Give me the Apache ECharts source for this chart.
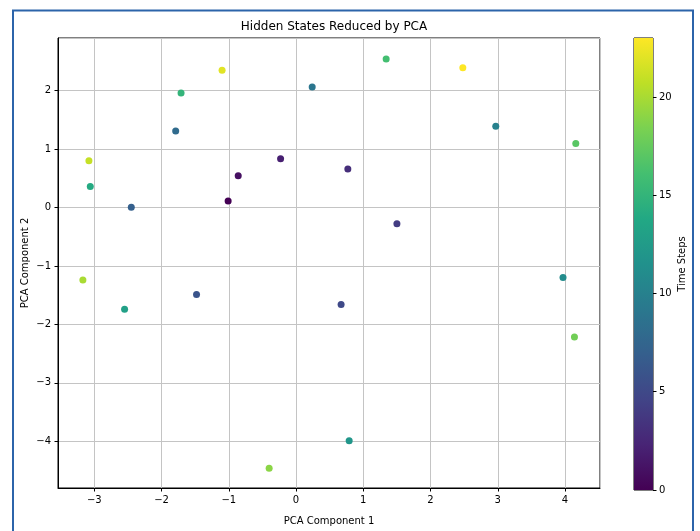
<!DOCTYPE html>
<html>
<head>
<meta charset="utf-8">
<script src="https://cdn.jsdelivr.net/npm/echarts@6/dist/echarts.min.js"></script>
<style>
html,body{margin:0;padding:0;background:#fff;}
#chart{width:700px;height:531px;}
</style>
</head>
<body>
<div id="chart"></div>
<script>
// Data
const timeSteps = [0, 1, 2, 3, 4, 5, 6, 7, 8, 9, 10, 11, 12, 13, 14, 15, 16, 17, 18, 19, 20, 21, 22, 23];
const pcaX = [-1.01, -0.86, -0.23, 0.77, 1.50, 0.67, -1.48, -2.45, -1.79, 0.24, 2.97, 3.97, 0.79, -2.55, -3.06, -1.71, 1.34, 4.16, 4.14, -0.40, -3.17, -3.08, -1.10, 2.48];
const pcaY = [0.11, 0.545, 0.835, 0.66, -0.28, -1.66, -1.49, 0.005, 1.31, 2.06, 1.39, -1.20, -3.99, -1.74, 0.36, 1.96, 2.54, 1.095, -2.215, -4.46, -1.24, 0.80, 2.35, 2.39];
const xTickLabels = ['−3', '−2', '−1', '0', '1', '2', '3', '4'];
const yTickLabels = ['−4', '−3', '−2', '−1', '0', '1', '2'];
const cbarTickLabels = ['0', '5', '10', '15', '20'];

const viridis = ['#440154', '#482475', '#414487', '#355f8d', '#2a788e', '#21918c', '#22a884', '#44bf70', '#7ad151', '#bddf26', '#fde725'];
const tMin = 0, tMax = 23;

const points = pcaX.map((x, i) => [x, pcaY[i], timeSteps[i]]);
const fmt = v => {
  const s = String(Math.round(v));
  return s.replace('-', '−');
};

const chart = echarts.init(document.getElementById('chart'), null, {renderer: 'canvas'});
const font = 'DejaVu Sans';
chart.setOption({
  animation: false,
  backgroundColor: '#fff',
  textStyle: {fontFamily: font},
  title: {
    text: 'Hidden States Reduced by PCA',
    left: 329, top: 16, textAlign: 'center',
    textStyle: {fontFamily: font, fontSize: 12, fontWeight: 'normal', color: '#000'}
  },
  graphic: [{
    type: 'rect', silent: true, z: 100,
    shape: {x: 13, y: 10.5, width: 680, height: 540},
    style: {fill: 'none', stroke: '#2c64aa', lineWidth: 2}
  }],
  visualMap: {
    type: 'continuous', show: false, seriesIndex: 0, dimension: 2,
    min: tMin, max: tMax, inRange: {color: viridis}
  },
  grid: [
    {left: 58, top: 38, width: 542, height: 452, show: true, borderColor: '#000', borderWidth: 1, backgroundColor: 'transparent'},
    {left: 634, top: 38, width: 19, height: 452, show: true, borderColor: '#000', borderWidth: 1, backgroundColor: 'transparent'}
  ],
  xAxis: [{
    gridIndex: 0, type: 'value', min: -3.54, max: 4.52, splitNumber: 8, minInterval: 1, maxInterval: 1,
    name: 'PCA Component 1', nameLocation: 'middle', nameGap: 28, nameMoveOverlap: false,
    nameTextStyle: {fontFamily: font, fontSize: 10, color: '#000'},
    axisLine: {show: true, onZero: false, lineStyle: {color: '#000', width: 1}},
    axisTick: {show: true, length: 3.5, lineStyle: {color: '#000'}},
    axisLabel: {fontFamily: font, fontSize: 10, color: '#000', margin: 7, showMinLabel: false, showMaxLabel: false,
      formatter: v => (Math.abs(v - Math.round(v)) < 1e-6 && xTickLabels.includes(fmt(v))) ? fmt(v) : ''},
    splitLine: {show: true, lineStyle: {color: '#c4c4c4', width: 1}}
  }, {
    gridIndex: 1, type: 'category', data: [''], show: false
  }],
  yAxis: [{
    gridIndex: 0, type: 'value', min: -4.80, max: 2.90, splitNumber: 8, minInterval: 1, maxInterval: 1,
    name: 'PCA Component 2', nameLocation: 'middle', nameGap: 28, nameMoveOverlap: false,
    nameTextStyle: {fontFamily: font, fontSize: 10, color: '#000'},
    axisLine: {show: true, onZero: false, lineStyle: {color: '#000', width: 1}},
    axisTick: {show: true, length: 3.5, lineStyle: {color: '#000'}},
    axisLabel: {fontFamily: font, fontSize: 10, color: '#000', margin: 7, showMinLabel: false, showMaxLabel: false,
      formatter: v => (Math.abs(v - Math.round(v)) < 1e-6 && yTickLabels.includes(fmt(v))) ? fmt(v) : ''},
    splitLine: {show: true, lineStyle: {color: '#c4c4c4', width: 1}}
  }, {
    gridIndex: 1, type: 'value', position: 'right', min: tMin, max: tMax, interval: 5,
    name: 'Time Steps', nameLocation: 'middle', nameGap: 24, nameRotate: 90,
    nameTextStyle: {fontFamily: font, fontSize: 10, color: '#000'},
    axisLine: {show: false},
    axisTick: {show: true, length: 3.5, lineStyle: {color: '#000'}},
    axisLabel: {fontFamily: font, fontSize: 10, color: '#000', margin: 6, showMaxLabel: false,
      formatter: v => cbarTickLabels.includes(fmt(v)) ? fmt(v) : ''},
    splitLine: {show: false}
  }],
  series: [{
    type: 'scatter', xAxisIndex: 0, yAxisIndex: 0,
    symbolSize: 7, data: points, z: 5,
    itemStyle: {opacity: 1}
  }, {
    type: 'bar', xAxisIndex: 1, yAxisIndex: 1, silent: true,
    barWidth: '100%', data: [tMax],
    itemStyle: {
      color: new echarts.graphic.LinearGradient(0, 1, 0, 0,
        viridis.map((c, i) => ({offset: i / (viridis.length - 1), color: c})))
    }
  }]
});
</script>
</body>
</html>
